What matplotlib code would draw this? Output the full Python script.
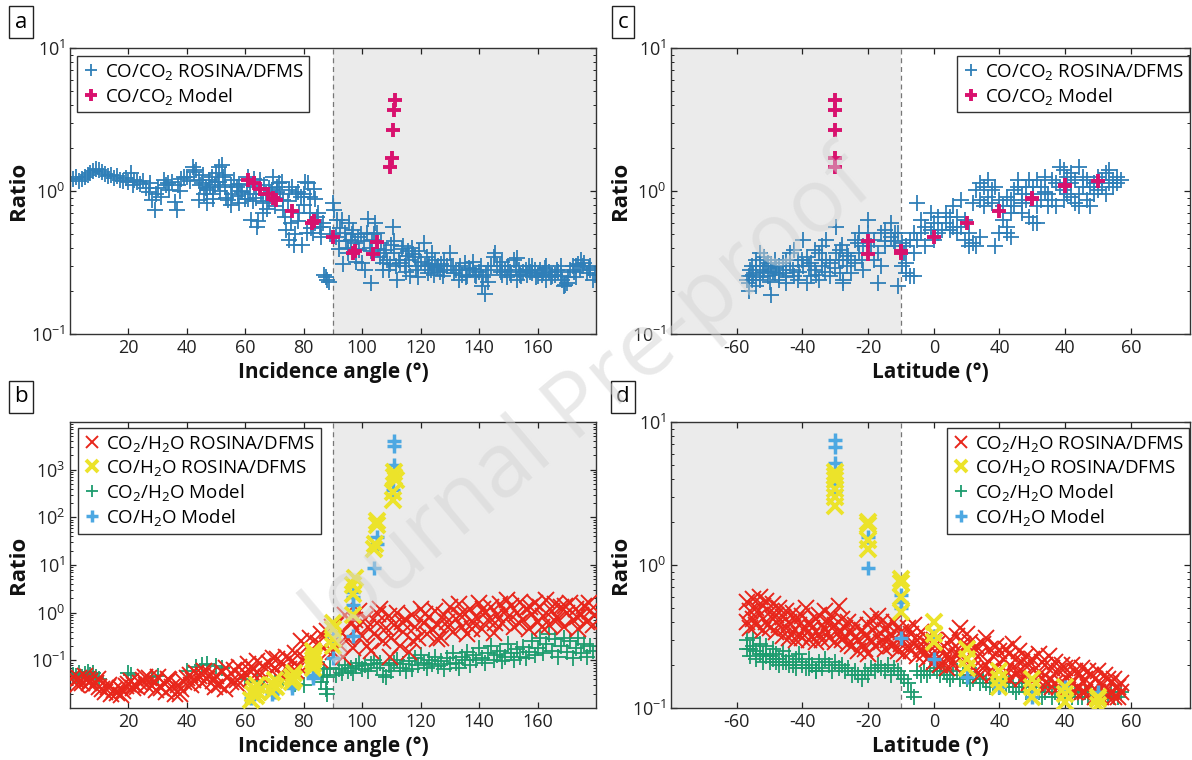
import math
import matplotlib
matplotlib.use('Agg')
import matplotlib.pyplot as plt
from matplotlib.ticker import FixedLocator, LogLocator, NullFormatter

plt.rcParams['font.family'] = ['Open Sans', 'DejaVu Sans']
plt.rcParams['mathtext.fontset'] = 'custom'
plt.rcParams['mathtext.rm'] = 'Open Sans'
plt.rcParams['mathtext.it'] = 'Open Sans:italic'
plt.rcParams['mathtext.bf'] = 'Open Sans:bold'

# ---------------- data ----------------
# panel a: CO/CO2 ROSINA vs incidence angle
inc_a = [1,2,3,4,5,6,7,8,9,10,11,12,13,14,15,16,17,18,19,20,21,21.5,22,23,24,25,26,27,27.5,28,29,29.5,30,31,32,33,33.5,34,35,36,36.5,37,37.5,38,39,40,41,42,42.5,43,44,44.5,45,45.5,46,46.5,47,47.5,48,48.5,49,49.5,50,50.5,51,51.5,52,52.5,53,53.5,54,55,55.5,56,57,57.5,58,58.5,59,60,60.5,61,61.5,62,62.5,63,63.5,64,64.5,65,65.5,66,66.5,67,67.5,68,69,69.5,70,70.5,71,71.5,72,72.5,73,73.5,74,74.5,75,75.5,76,76.5,77,77.5,78,78.5,79,79.5,80,80.5,81,81.5,82,82.5,83,83.5,84,84.5,85,85.5,86,86.5,87,87.5,88,88.5,89,90,90.5,91,91.5,92,92.5,93,93.5,94,94.5,95,95.5,96,96.5,97,97.5,98,98.5,99,99.5,100,100.5,101,101.5,102,102.5,103,103.5,104,104.5,105,105.5,106,106.5,107,107.5,108,108.5,109,109.5,110,110.5,111,111.5,112,112.5,113,113.5,114,114.5,115,115.5,116,116.5,117,117.5,118,118.5,119,119.5,120,121,121.5,122,122.5,123,123.5,124,124.5,125,125.5,126,126.5,127,127.5,128,129,130,130.5,131,131.5,132,133,133.5,134,135,135.5,136,136.5,137,138,138.5,139,140,140.5,141,141.5,142,142.5,143,144,145,145.5,146,147,147.5,148,149,149.5,150,150.5,151,152,152.5,153,153.5,154,154.5,155,156,156.5,157,157.5,158,159,159.5,160,161,161.5,162,162.5,163,164,164.5,165,166,166.5,167,168,168.5,169,169.5,170,170.5,171,172,172.5,173,174,174.5,175,175.5,176,177,177.5,178,179,179.5]
rco_a = [1.21,1.25,1.18,1.22,1.26,1.30,1.33,1.38,1.42,1.40,1.36,1.32,1.28,1.30,1.24,1.27,1.20,1.18,1.23,1.15,1.33,1.10,1.20,1.16,1.12,1.18,1.05,0.99,1.13,0.87,0.74,0.95,1.05,0.91,1.19,1.10,1.14,1.02,1.16,0.84,0.74,1.10,1.00,1.21,1.26,1.25,1.18,1.48,1.35,1.40,0.86,1.10,1.13,1.30,0.96,1.05,0.82,1.20,1.07,1.26,0.95,1.10,1.33,1.16,1.48,1.00,1.52,1.25,1.07,0.90,0.87,1.10,0.96,1.20,1.07,0.92,0.82,1.00,0.99,0.88,1.10,1.26,0.95,0.63,0.85,1.07,0.90,0.56,0.62,1.19,0.95,0.82,1.10,0.96,0.75,1.05,1.02,1.26,0.78,0.90,1.07,1.13,0.95,1.16,0.74,0.66,0.535,0.85,0.455,0.60,1.07,0.42,0.50,0.96,0.99,0.70,0.91,0.42,0.96,1.16,0.507,1.13,0.91,0.55,0.507,1.04,0.60,0.66,0.70,0.56,0.564,0.60,0.26,0.25,0.24,0.23,0.50,0.82,0.74,0.48,0.63,0.39,0.55,0.63,0.31,0.507,0.45,0.367,0.60,0.455,0.50,0.535,0.43,0.39,0.48,0.388,0.50,0.313,0.45,0.28,0.507,0.64,0.40,0.227,0.455,0.50,0.60,0.507,0.39,0.348,0.43,0.313,0.367,0.388,0.33,0.281,0.31,0.42,0.564,0.367,0.30,0.239,0.33,0.313,0.39,0.41,0.30,0.35,0.38,0.33,0.253,0.40,0.36,0.348,0.28,0.297,0.38,0.32,0.43,0.30,0.348,0.267,0.31,0.28,0.297,0.26,0.33,0.29,0.297,0.27,0.31,0.253,0.28,0.30,0.367,0.30,0.297,0.267,0.28,0.281,0.30,0.26,0.313,0.25,0.253,0.29,0.281,0.285,0.26,0.253,0.27,0.30,0.215,0.25,0.19,0.26,0.281,0.30,0.348,0.367,0.30,0.297,0.27,0.26,0.281,0.25,0.297,0.27,0.26,0.33,0.30,0.34,0.28,0.26,0.253,0.27,0.281,0.26,0.297,0.27,0.267,0.28,0.25,0.253,0.281,0.26,0.267,0.29,0.297,0.27,0.25,0.253,0.26,0.28,0.27,0.253,0.24,0.215,0.22,0.227,0.25,0.281,0.30,0.27,0.297,0.31,0.28,0.33,0.30,0.313,0.267,0.29,0.281,0.24,0.26]
inc_a_extra = [44,47,49,51,53,55,58,61,63,66,68,71,73,75,78,80,82,84,86,92,95,98,103,107,111,115,119,124,128,133,138,143,148,153,158,163,168,173,178]
rco_a_extra = [1.20,1.02,0.88,1.15,1.30,0.80,1.12,0.88,1.22,0.70,0.85,0.98,0.86,1.02,0.62,0.80,0.70,0.88,0.48,0.45,0.40,0.32,0.38,0.28,0.45,0.27,0.25,0.37,0.33,0.24,0.32,0.23,0.32,0.24,0.30,0.24,0.30,0.25,0.30]

# model CO/CO2 vs incidence angle and latitude
inc_mod = [61,63,65,67.6,69.5,70.5,76,82.7,83.5,89.9,97,97.5,103.6,104.9,109.5,110.2,110.6,110.8,111.2]
rco_mod_a = [1.19,1.13,1.04,0.96,0.89,0.86,0.72,0.60,0.62,0.48,0.37,0.38,0.36,0.44,1.48,1.69,2.66,3.67,4.30]
lat_mod = [50,40,30,20,10,0,-10,-20,-30,-30,-30,-30,-30]
rco_mod_c = [1.17,1.08,0.90,0.72,0.60,0.48,0.37,0.36,1.48,1.69,2.66,3.67,4.30]
lat_mod_extra = [-20,-10,40,30]
rco_mod_extra = [0.45,0.38,1.10,0.88]

# panel c: CO/CO2 ROSINA vs latitude
lat_c = [-56.4,-56.4,-56.4,-55.3,-55.3,-54.1,-54.1,-54.1,-52.9,-52.9,-52.9,-51.8,-51.8,-50.6,-50.6,-49.5,-49.5,-48.3,-48.3,-47.2,-47.2,-46,-44.9,-44.9,-44.9,-43.7,-43.7,-42.5,-42.5,-41.4,-41.4,-39.7,-39.7,-38.5,-38.5,-37.3,-37.3,-36.2,-36.2,-35,-35,-33.9,-33.9,-32.7,-32.7,-31.6,-31.6,-29.8,-29.8,-28.7,-28.7,-27.5,-27.5,-27.5,-26.4,-26.4,-25.2,-25.2,-24,-24,-22.9,-22.9,-21.7,-21.7,-20,-20,-20,-18.3,-18.3,-17.1,-17.1,-16,-16,-14.8,-14.8,-13.1,-13.1,-11.9,-11.9,-10.8,-10.8,-9.6,-9.6,-8.4,-8.4,-8.4,-7.3,-7.3,-6.1,-6.1,-6.1,-5,-5,-3.8,-3.8,-2.7,-2.7,-0.9,-0.9,0.2,0.2,1.4,1.4,2.5,3.7,3.7,4.9,4.9,6,6,7.2,7.2,8.3,8.3,9.5,9.5,10.6,10.6,11.8,11.8,12.9,12.9,14.1,14.1,14.1,15.3,15.3,16.4,16.4,17.6,17.6,18.7,18.7,19.9,19.9,21,21,22.2,22.2,22.2,23.4,23.4,23.4,24.5,24.5,25.7,25.7,26.8,26.8,26.8,28,28,29.1,29.1,30.3,30.3,30.3,31.4,31.4,31.4,32.6,32.6,33.8,33.8,34.9,34.9,36.1,36.1,37.2,37.2,38.4,38.4,39.5,39.5,39.5,40.7,40.7,41.8,41.8,41.8,43,43,44.2,44.2,44.2,45.3,45.3,46.5,46.5,47.6,47.6,48.8,48.8,50,50,51.1,51.1,52.3,52.3,53.4,53.4,54.6,54.6,55.7,55.7,56.9,-57,-56,-55,-54,-53,-52,-51,-50,-49,-48,-47,-46,-45,-43,-41,-40,-38,-36,-34,-33,-30,-29,-28,-26,-23,-22,-19,-15,-12,-9]
rco_c = [0.253,0.227,0.20,0.297,0.239,0.33,0.267,0.215,0.367,0.297,0.239,0.348,0.281,0.313,0.253,0.188,0.297,0.33,0.267,0.297,0.239,0.313,0.33,0.267,0.227,0.367,0.297,0.388,0.253,0.33,0.239,0.455,0.297,0.348,0.227,0.313,0.253,0.388,0.281,0.367,0.239,0.41,0.297,0.455,0.33,0.313,0.253,0.564,0.367,0.388,0.267,0.33,0.239,0.227,0.297,0.367,0.33,0.267,0.455,0.313,0.507,0.367,0.41,0.281,0.63,0.507,0.367,0.455,0.33,0.367,0.227,0.507,0.297,0.535,0.41,0.595,0.48,0.507,0.41,0.215,0.507,0.297,0.43,0.313,0.267,0.41,0.455,0.253,0.507,0.367,0.253,0.82,0.455,0.63,0.507,0.41,0.564,0.70,0.535,0.595,0.455,0.507,0.66,0.535,0.595,0.70,0.66,0.535,0.564,0.78,0.66,0.507,0.865,0.564,0.63,0.455,0.507,0.41,0.43,0.82,1.02,0.41,1.13,0.865,0.48,1.07,0.78,1.19,0.91,1.02,0.82,1.07,0.41,0.865,0.507,0.78,0.63,0.91,0.564,0.507,0.865,0.70,0.48,1.02,0.78,1.07,1.19,0.96,0.82,0.70,1.07,0.865,1.19,0.66,1.07,0.96,0.595,1.19,0.78,0.595,1.07,0.865,0.99,1.26,0.96,0.78,0.865,1.19,1.13,0.78,1.48,1.07,1.40,1.02,0.865,1.26,0.96,1.13,1.33,0.91,1.19,0.82,1.48,0.96,0.78,1.26,1.07,1.19,0.865,1.07,0.78,1.13,0.96,1.26,1.02,1.19,1.07,1.33,0.96,1.40,1.13,1.19,1.07,1.26,1.13,1.19,0.24,0.28,0.26,0.30,0.25,0.27,0.30,0.23,0.27,0.29,0.26,0.28,0.25,0.28,0.27,0.33,0.30,0.26,0.33,0.27,0.29,0.33,0.42,0.35,0.43,0.33,0.41,0.45,0.45,0.37]

# panel b: vs incidence angle
inc_red_b = list(range(1, 180)) + [2.5,6.5,9.5,13.5,17.5,21.5,25.5,29.5,33.5,37.5,41.5,45.5,49.5,53.5,57.5,61.5,65.5,69.5,73.5,77.5,81.5,85.5,89.5,93.5,97.5,101.5,105.5,109.5,113.5,117.5,121.5,125.5,129.5,133.5,137.5,141.5,145.5,149.5,153.5,157.5,161.5,165.5,169.5,173.5,177.5,179.5]
co2h2o_b = [0.045,0.038,0.042,0.033,0.046,0.040,0.036,0.030,0.034,0.028,
            0.025,0.022,0.027,0.020,0.024,0.021,0.026,0.023,0.029,0.032,
            0.036,0.030,0.027,0.034,0.038,0.031,0.042,0.029,0.035,0.045,
            0.026,0.033,0.022,0.038,0.028,0.020,0.031,0.025,0.035,0.042,
            0.050,0.038,0.055,0.046,0.033,0.060,0.041,0.052,0.036,0.047,
            0.030,0.058,0.025,0.044,0.035,0.064,0.039,0.072,0.048,0.055,
            0.082,0.040,0.065,0.095,0.050,0.075,0.045,0.088,0.060,0.070,
            0.105,0.052,0.085,0.12,0.065,0.095,0.14,0.075,0.25,0.11,
            0.19,0.30,0.16,0.12,0.23,0.35,0.18,0.42,0.26,0.15,
            0.55,0.22,0.38,0.90,0.28,0.65,0.18,0.45,1.10,0.32,
            0.75,0.50,0.16,0.35,0.62,1.20,0.25,0.48,0.85,0.30,
            0.55,1.00,0.20,0.40,0.70,0.15,0.90,0.50,0.30,1.20,
            0.60,0.35,0.80,0.45,1.10,0.55,0.30,0.90,0.65,1.30,
            0.40,0.75,1.50,0.50,0.95,0.35,1.20,0.60,0.80,1.60,
            0.45,1.00,0.70,1.30,0.38,0.90,1.50,0.60,1.10,0.80,
            1.40,0.50,1.00,1.70,0.70,1.20,0.45,0.95,1.60,0.65,
            1.30,0.85,1.80,0.55,1.10,1.50,0.75,1.30,0.50,1.00,
            1.60,0.70,1.20,0.45,0.90,1.40,0.65,1.10,0.55,
            0.030,0.034,0.040,0.030,0.019,0.026,0.045,0.024,0.040,0.020,0.030,0.050,0.028,0.070,0.030,0.060,0.035,0.110,0.045,0.060,0.08,0.10,0.50,0.12,0.70,0.20,0.95,0.12,0.65,0.25,0.95,0.28,0.50,0.90,0.45,1.20,0.60,1.80,0.60,1.30,0.50,0.70,1.40,0.80,1.60,0.90]
inc_green_b = [1,2,3,4,5,6,7,8,9,10,20,21,28,30,40,43,45,47,50,52,60,64,66,70,73,77,80,86,86.5,87,87.5,88,88,89,91,92,93,94,95,96,97,98,99,100,101,102,103,104,105,106,107,108,109,110,111,112,113,114,115,116,117,118,119,120,121,122,123,124,125,126,127,128,129,130,131,132,133,134,135,136,137,138,139,140,141,142,143,144,145,146,147,148,149,150,151,152,153,154,155,156,157,158,159,160,161,162,163,164,165,166,167,168,169,170,171,172,173,174,175,176,177,178,179]
co2h2o_mod_b = [0.05,0.048,0.055,0.045,0.052,0.058,0.05,0.055,0.045,0.04,0.055,0.05,0.045,0.048,0.06,0.072,0.08,0.085,0.075,0.07,0.04,0.035,0.03,0.035,0.04,0.032,0.03,0.035,0.05,0.065,0.025,0.045,0.02,0.07,0.05,0.065,0.055,0.08,0.06,0.07,0.055,0.075,0.09,0.065,0.08,0.06,0.085,0.10,0.07,0.09,0.05,0.045,0.08,0.06,0.09,0.10,0.07,0.085,0.06,0.095,0.065,0.11,0.08,0.13,0.09,0.07,0.10,0.085,0.12,0.075,0.095,0.065,0.11,0.085,0.14,0.09,0.07,0.12,0.10,0.15,0.08,0.13,0.10,0.18,0.11,0.09,0.14,0.20,0.10,0.13,0.16,0.095,0.12,0.22,0.14,0.10,0.17,0.12,0.19,0.11,0.15,0.25,0.13,0.18,0.30,0.14,0.22,0.35,0.16,0.28,0.12,0.20,0.30,0.15,0.25,0.11,0.18,0.30,0.14,0.22,0.12,0.20,0.16]
inc_yel_b = [62,62.5,63,63.5,64,64.5,69,69.5,70,70.5,76,76,76.5,76.5,83,83,83,83.5,83.5,83,90,90,90,90,97,97,97.5,97,104,104.5,105,105,110.5,110.5,111,111,111.5]
coh2o_b = [0.015,0.02,0.025,0.018,0.03,0.022,0.022,0.03,0.038,0.027,0.035,0.045,0.055,0.04,0.07,0.085,0.10,0.12,0.14,0.16,0.20,0.28,0.45,0.60,0.90,3.8,5.3,2.5,22,28,70,85,230,340,700,900,600]
inc_lb_b = [62,63,64,69,70,76,76,83,83,90,90,97,97,97,97,104,105,105,110.5,111,111,111]
coh2o_mod_b = [0.016,0.02,0.025,0.02,0.022,0.026,0.03,0.042,0.05,0.11,0.32,0.33,1.45,2.1,2.7,8.7,28,39,370,1250,3200,3900]

# panel d: vs latitude
lat_d = list(range(-57, 58))
co2h2o_d_hi = [0.55,0.48,0.58,0.50,0.60,0.52,0.56,0.47,0.53,0.45,0.50,0.43,0.48,0.40,0.46,0.42,0.38,0.44,0.50,0.40,0.36,0.42,0.45,0.38,0.48,0.40,0.44,0.38,0.52,0.42,0.36,0.40,0.34,0.38,0.30,0.35,0.32,0.38,0.42,0.36,0.44,0.40,0.35,0.38,0.33,0.40,0.36,0.34,0.31,0.36,0.33,0.38,0.30,0.34,0.29,0.31,0.27,0.30,0.28,0.25,0.27,0.24,0.30,0.26,0.32,0.36,0.28,0.33,0.29,0.25,0.27,0.24,0.28,0.31,0.26,0.23,0.27,0.25,0.22,0.26,0.24,0.28,0.22,0.25,0.21,0.23,0.20,0.22,0.19,0.24,0.21,0.20,0.23,0.19,0.21,0.18,0.20,0.19,0.17,0.20,0.18,0.17,0.19,0.16,0.18,0.17,0.16,0.18,0.15,0.17,0.16,0.15,0.16,0.14,0.15]
co2h2o_d_lo = [0.40,0.36,0.42,0.38,0.45,0.35,0.40,0.36,0.42,0.34,0.38,0.32,0.36,0.31,0.34,0.30,0.33,0.31,0.36,0.30,0.32,0.29,0.33,0.30,0.35,0.31,0.36,0.29,0.34,0.30,0.32,0.28,0.27,0.31,0.25,0.28,0.26,0.24,0.30,0.27,0.32,0.29,0.26,0.30,0.27,0.28,0.25,0.28,0.24,0.27,0.25,0.28,0.23,0.26,0.24,0.22,0.23,0.21,0.22,0.20,0.21,0.19,0.22,0.20,0.23,0.25,0.21,0.22,0.20,0.19,0.18,0.17,0.19,0.20,0.18,0.17,0.19,0.16,0.17,0.18,0.16,0.19,0.17,0.18,0.16,0.17,0.15,0.16,0.15,0.17,0.16,0.14,0.16,0.14,0.15,0.14,0.15,0.13,0.14,0.15,0.13,0.14,0.13,0.13,0.14,0.13,0.12,0.13,0.12,0.13,0.12,0.13,0.12,0.12,0.13]
co2h2o_mod_d = [0.30,0.26,0.31,0.25,0.28,0.24,0.27,0.23,0.26,0.24,0.22,0.25,0.21,0.23,0.20,0.22,0.24,0.21,0.19,0.22,0.20,0.18,0.21,0.19,0.22,0.20,0.18,0.21,0.19,0.20,0.18,0.19,0.17,0.18,0.17,0.16,0.18,0.17,0.19,0.18,0.20,0.19,0.18,0.20,0.17,0.19,0.18,0.17,0.16,0.15,0.13,0.12,0.18,0.17,0.18,0.17,0.18,0.19,0.18,0.17,0.18,0.17,0.16,0.17,0.18,0.16,0.17,0.16,0.15,0.16,0.17,0.15,0.16,0.15,0.14,0.15,0.16,0.14,0.15,0.14,0.15,0.14,0.13,0.14,0.15,0.13,0.14,0.13,0.14,0.13,0.12,0.13,0.14,0.12,0.13,0.12,0.13,0.12,0.13,0.12,0.13,0.12,0.12,0.13,0.12,0.13,0.12,0.12,0.13,0.12,0.12,0.13,0.12,0.12,0.13]
lat_green_extra = [-57,-56,-55,-54,-53,-52,-51,-50,-49,-48,-47,-46,-44,-42,-40,-38,-36]
co2h2o_mod_d_extra = [0.26,0.23,0.27,0.22,0.24,0.21,0.23,0.21,0.22,0.21,0.20,0.21,0.20,0.19,0.20,0.19,0.18]
lat_yel_d = [-30,-30,-30,-30,-30,-30,-20,-20,-20,-20,-10,-10,-10,-10,0,0,0,10,10,10,20,20,20,30,30,30,40,40,40,50,50,50]
coh2o_d = [2.6,3.0,3.4,3.9,4.5,4.2,1.3,1.5,1.9,2.0,0.47,0.60,0.75,0.80,0.29,0.33,0.40,0.19,0.22,0.26,0.14,0.16,0.18,0.12,0.14,0.16,0.11,0.125,0.14,0.105,0.115,0.12]
lat_lb_d = [-30,-30,-30,-30,-30,-20,-20,-10,-10,-10,-10,0,0,10,20,30,40,50]
coh2o_mod_d = [7.5,6.7,5.2,3.6,3.3,1.58,0.96,0.62,0.55,0.50,0.31,0.32,0.22,0.165,0.14,0.12,0.14,0.13]

inc_ticks = [20, 40, 60, 80, 100, 120, 140, 160]
lat_ticks = [-60, -40, -20, 0, 20, 40, 60]
lat_ticklabels = ['-60', '-40', '-20', '0', '40', '40', '60']

# ---------------- styles ----------------
C_BLUE = '#2f7fb8'
C_MAG = '#d8126e'
C_RED = '#e8261b'
C_YEL = '#ece32a'
C_GRN = '#1d9c6e'
C_LB = '#4da8e2'
GRAY_BG = '#ebebeb'

W, H = 1192, 760
fig = plt.figure(figsize=(W / 100, H / 100), dpi=100)


def make_ax(l, r, t, b):
    return fig.add_axes([l / W, 1 - b / H, (r - l) / W, (b - t) / H])


ax_a = make_ax(70, 596, 48, 334)
ax_c = make_ax(671, 1190, 48, 334)
ax_b = make_ax(70, 596, 422, 708)
ax_d = make_ax(671, 1190, 422, 708)


def style(ax, xlim, ylim, shade, vline, xlabel):
    ax.set_yscale('log')
    ax.set_xlim(*xlim)
    ax.set_ylim(*ylim)
    ax.axvspan(shade[0], shade[1], color=GRAY_BG, zorder=0, lw=0)
    ax.axvline(vline, color='#777777', lw=0.9, ls=(0, (4, 3)), zorder=1)
    ax.tick_params(which='both', direction='in', top=True, right=True,
                   labelsize=13, colors='#222222')
    ax.tick_params(which='major', length=4.5, width=0.9)
    ax.tick_params(which='minor', length=2.5, width=0.7)
    ax.tick_params(axis='x', which='minor', top=False, bottom=False)
    for s in ax.spines.values():
        s.set_linewidth(1.0)
        s.set_color('#333333')
    ax.set_xlabel(xlabel, fontsize=15, fontweight='bold', color='#111111')
    ax.set_ylabel('Ratio', fontsize=16, fontweight='bold', color='#111111')
    ax.xaxis.set_label_coords(0.5, -0.135)
    ax.xaxis.label.set_va('center')
    ax.yaxis.set_label_coords(-0.098, 0.5)
    ax.yaxis.label.set_va('center')


def inc_x(ax):
    ax.xaxis.set_major_locator(FixedLocator(inc_ticks))
    ax.set_xticklabels([str(t) for t in inc_ticks])


def lat_x(ax):
    ax.xaxis.set_major_locator(FixedLocator(lat_ticks))
    ax.set_xticklabels(lat_ticklabels)


def log_y(ax, majors):
    ax.yaxis.set_major_locator(FixedLocator(majors))
    ax.yaxis.set_minor_locator(LogLocator(base=10, subs=range(2, 10), numticks=20))
    ax.yaxis.set_minor_formatter(NullFormatter())
    ax.set_yticklabels([r'$10^{%d}$' % round(math.log10(m)) for m in majors])


thin = dict(ls='none', ms=11, mew=1.3)
thick = dict(ls='none', ms=10, mew=2.8)
xthin = dict(ls='none', ms=11, mew=1.4)
xthick = dict(ls='none', ms=11, mew=2.8)
pthick = dict(ls='none', ms=10, mew=2.5)

# panel a
style(ax_a, (0, 180), (0.1, 10), (90, 180), 90, 'Incidence angle (°)')
inc_x(ax_a)
log_y(ax_a, [0.1, 1, 10])
ax_a.plot(inc_a + inc_a_extra, rco_a + rco_a_extra, marker='+', color=C_BLUE,
          label='CO/CO$_2$ ROSINA/DFMS', **thin)
ax_a.plot(inc_mod, rco_mod_a, marker='+', color=C_MAG, label='CO/CO$_2$ Model', **thick)

# panel c
style(ax_c, (-80, 78), (0.1, 10), (-80, -10), -10, 'Latitude (°)')
lat_x(ax_c)
log_y(ax_c, [0.1, 1, 10])
ax_c.plot(lat_c, rco_c, marker='+', color=C_BLUE, label='CO/CO$_2$ ROSINA/DFMS', **thin)
ax_c.plot(lat_mod + lat_mod_extra, rco_mod_c + rco_mod_extra, marker='+', color=C_MAG,
          label='CO/CO$_2$ Model', **thick)

# panel b
style(ax_b, (0, 180), (1e-2, 1e4), (90, 180), 90, 'Incidence angle (°)')
inc_x(ax_b)
log_y(ax_b, [0.1, 1, 10, 100, 1000])
hg = ax_b.plot(inc_green_b, co2h2o_mod_b, marker='+', color=C_GRN, zorder=2, **thin)[0]
hr = ax_b.plot(inc_red_b, co2h2o_b, marker='x', color=C_RED, zorder=3, **xthin)[0]
hl = ax_b.plot(inc_lb_b, coh2o_mod_b, marker='+', color=C_LB, zorder=4, **pthick)[0]
hy = ax_b.plot(inc_yel_b, coh2o_b, marker='x', color=C_YEL, zorder=5, **xthick)[0]
hs_b = [hr, hy, hg, hl]

# panel d
style(ax_d, (-80, 78), (0.1, 10), (-80, -10), -10, 'Latitude (°)')
lat_x(ax_d)
log_y(ax_d, [0.1, 1, 10])
gd = ax_d.plot(lat_d + lat_green_extra, co2h2o_mod_d + co2h2o_mod_d_extra, marker='+',
               color=C_GRN, zorder=2, **thin)[0]
rd = ax_d.plot(lat_d + lat_d, co2h2o_d_hi + co2h2o_d_lo, marker='x', color=C_RED, zorder=3,
               **xthin)[0]
ld = ax_d.plot(lat_lb_d, coh2o_mod_d, marker='+', color=C_LB, zorder=4, **pthick)[0]
yd = ax_d.plot(lat_yel_d, coh2o_d, marker='x', color=C_YEL, zorder=5, **xthick)[0]
hs_d = [rd, yd, gd, ld]

labels_bd = ['CO$_2$/H$_2$O ROSINA/DFMS', 'CO/H$_2$O ROSINA/DFMS',
             'CO$_2$/H$_2$O Model', 'CO/H$_2$O Model']

leg_kw = dict(fontsize=13.5, frameon=True, fancybox=False, framealpha=1,
              edgecolor='#333333', handlelength=0.9, handletextpad=0.3,
              labelspacing=0.22, borderpad=0.3, borderaxespad=0, numpoints=1,
              markerscale=0.85)

for ax, loc, anchor in [(ax_a, 'upper left', (0.013, 0.972)),
                        (ax_c, 'upper right', (0.999, 0.972))]:
    lg = ax.legend(loc=loc, bbox_to_anchor=anchor, **leg_kw)
    lg.get_frame().set_linewidth(1.0)
    lg.set_zorder(10)

lg = ax_b.legend(hs_b, labels_bd, loc='upper left', bbox_to_anchor=(0.015, 0.979), **leg_kw)
lg.get_frame().set_linewidth(1.0)
lg.set_zorder(10)
lg = ax_d.legend(hs_d, labels_bd, loc='upper right', bbox_to_anchor=(0.999, 0.979), **leg_kw)
lg.get_frame().set_linewidth(1.0)
lg.set_zorder(10)

# panel letters
for txt, x, y in [('a', 21, 22), ('c', 623, 22), ('b', 21, 397), ('d', 623, 397)]:
    fig.text(x / W, 1 - y / H, txt, fontsize=16, ha='center', va='center',
             bbox=dict(boxstyle='square,pad=0.25', fc='white', ec='#222222', lw=1.0))

# watermark (kept fully inside the figure)
fig.text(590 / W, 1 - 405 / H, 'Journal Pre-proof', fontsize=64, color='#d4d4d4',
         alpha=0.5, rotation=40, ha='center', va='center', rotation_mode='anchor', zorder=20)

fig.savefig('out.png', dpi=100)
